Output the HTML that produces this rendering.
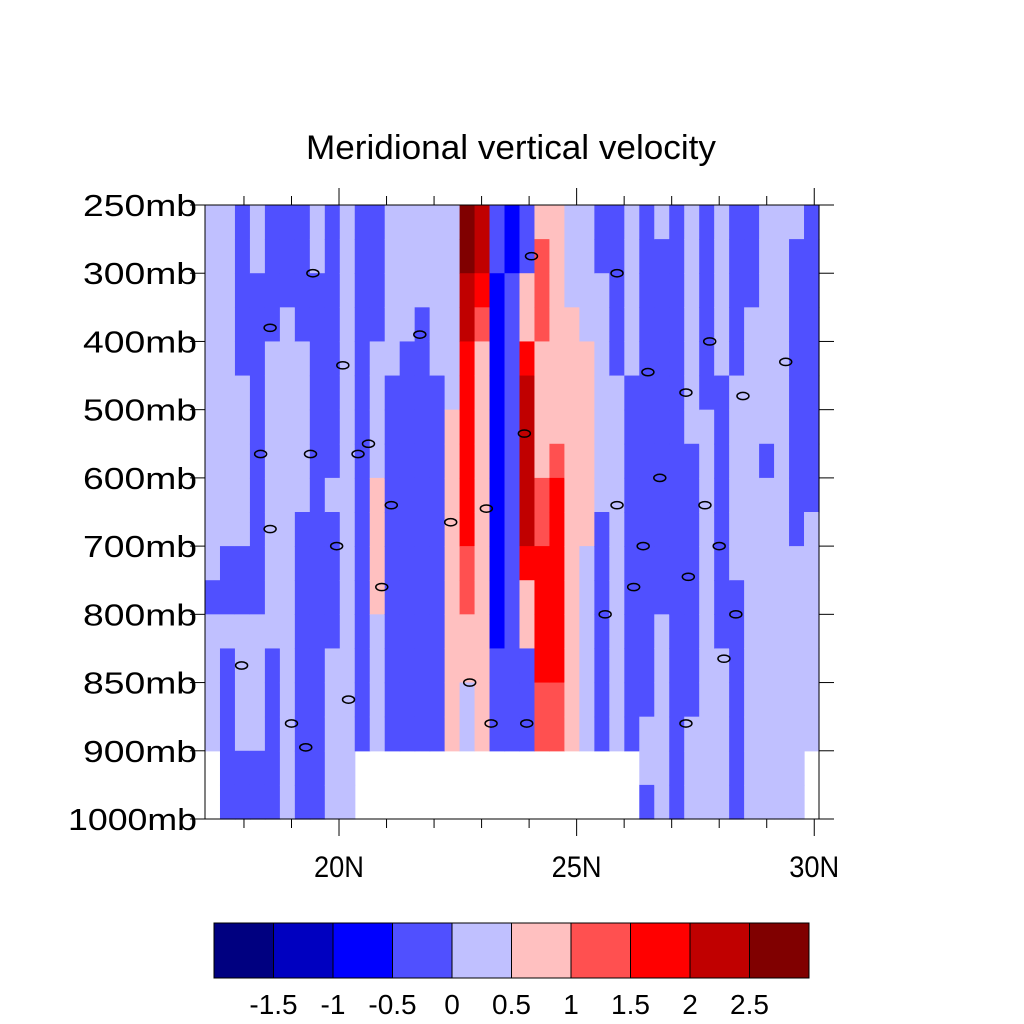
<!DOCTYPE html>
<html><head><meta charset="utf-8"><style>
html,body{margin:0;padding:0;background:#fff;}
svg{display:block;font-family:"Liberation Sans",Arial,sans-serif;}
</style></head><body>
<svg id="chart" width="1024" height="1024" viewBox="0 0 1024 1024">
<rect x="0" y="0" width="1024" height="1024" fill="#fff"/>
<text x="511" y="159" text-anchor="middle" font-size="34" textLength="410" lengthAdjust="spacingAndGlyphs">Meridional vertical velocity</text>
<g id="cells"></g>
<g id="labels"></g>
<g id="axes"></g>
<g id="cbar"></g>
</svg>
<script>
const levelLabels = ["250mb","300mb","400mb","500mb","600mb","700mb","800mb","850mb","900mb","1000mb"];
const latTicks = [20,25,30];
const latTickLabels = ["20N","25N","30N"];
const latMinor = [18,19,21,22,23,24,26,27,28,29];
const cbarLevels = [-1.5,-1,-0.5,0,0.5,1,1.5,2,2.5];
const cbarLabels = ["-1.5","-1","-0.5","0","0.5","1","1.5","2","2.5"];
const palette = ["#000080","#0000c0","#0000ff","#5050ff","#c0c0ff","#ffc0c0","#ff5050","#ff0000","#c00000","#800000"];
const n = null;
// velocity per column (west->east), 18 half-level rows top->bottom
const vcol = [
[.2,.2,.2,.2,.2,.2,.2,.2,.2,.2,.2,-.2,.2,.2,.2,.2,n,n],
[.2,.2,.2,.2,.2,.2,.2,.2,.2,.2,-.2,-.2,.2,-.2,-.2,-.2,-.2,-.2],
[-.2,-.2,-.2,-.2,-.2,.2,.2,.2,.2,.2,-.2,-.2,.2,.2,.2,.2,-.2,-.2],
[.2,.2,-.2,-.2,-.2,-.2,-.2,-.2,-.2,-.2,-.2,-.2,.2,.2,.2,.2,-.2,-.2],
[-.2,-.2,-.2,-.2,.2,.2,.2,.2,.2,.2,.2,.2,.2,-.2,-.2,-.2,-.2,-.2],
[-.2,-.2,-.2,.2,.2,.2,.2,.2,.2,.2,.2,.2,.2,.2,.2,.2,.2,.2],
[-.2,-.2,-.2,-.2,.2,.2,.2,.2,.2,-.2,-.2,-.2,-.2,-.2,-.2,-.2,-.2,-.2],
[.2,.2,-.2,-.2,-.2,-.2,-.2,-.2,-.2,-.2,-.2,-.2,-.2,-.2,-.2,-.2,-.2,-.2],
[-.2,-.2,-.2,-.2,-.2,-.2,-.2,-.2,.2,-.2,-.2,-.2,-.2,.2,.2,.2,.2,.2],
[.2,.2,.2,.2,.2,.2,.2,.2,.2,.2,.2,.2,.2,.2,.2,.2,.2,.2],
[-.2,-.2,-.2,-.2,-.2,-.2,-.2,-.2,-.2,-.2,-.2,-.2,-.2,-.2,-.2,-.2,n,n],
[-.2,-.2,-.2,-.2,.2,.2,.2,.2,.7,.7,.7,.7,.2,.2,.2,.2,n,n],
[.2,.2,.2,.2,.2,-.2,-.2,-.2,-.2,-.2,-.2,-.2,-.2,-.2,-.2,-.2,n,n],
[.2,.2,.2,.2,-.2,-.2,-.2,-.2,-.2,-.2,-.2,-.2,-.2,-.2,-.2,-.2,n,n],
[.2,.2,.2,-.2,-.2,-.2,-.2,-.2,-.2,-.2,-.2,-.2,-.2,-.2,-.2,-.2,n,n],
[.2,.2,.2,.2,.2,-.2,-.2,-.2,-.2,-.2,-.2,-.2,-.2,-.2,-.2,-.2,n,n],
[.2,.2,.2,.2,.2,.2,.7,.7,.7,.7,.7,.7,.7,.7,.7,.7,n,n],
[2.7,2.7,2.2,2.2,1.7,1.7,1.7,1.7,1.7,1.7,1.2,1.2,.7,.7,.2,.2,n,n],
[2.2,2.2,1.7,1.2,.7,.7,.7,.7,.7,.7,.7,.7,.7,.7,.7,.7,n,n],
[-.2,-.2,-.7,-.7,-.7,-.7,-.7,-.7,-.7,-.7,-.7,-.7,-.7,-.2,-.2,-.2,n,n],
[-.7,-.7,-.2,-.2,-.2,-.2,-.2,-.2,-.2,-.2,-.2,-.2,-.2,-.2,-.2,-.2,n,n],
[-.2,-.2,.7,.7,1.7,2.2,2.2,2.2,2.2,2.2,1.7,.7,.7,-.2,-.2,-.2,n,n],
[.7,1.2,1.2,1.2,.7,.7,.7,.7,1.2,1.2,1.7,1.7,1.7,1.7,1.2,1.2,n,n],
[.7,.7,.7,.7,.7,.7,.7,1.2,1.7,1.7,1.7,1.7,1.7,1.7,1.2,1.2,n,n],
[.2,.2,.2,.7,.7,.7,.7,.7,.7,.7,.7,.7,.7,.7,.7,.7,n,n],
[.2,.2,.2,.2,.7,.7,.7,.7,.7,.7,.2,.2,.2,.2,.2,.2,n,n],
[-.2,-.2,.2,.2,.2,.2,.2,.2,.2,-.2,-.2,-.2,-.2,-.2,-.2,-.2,n,n],
[-.2,-.2,-.2,-.2,-.2,.2,.2,.2,.2,.2,.2,.2,.2,.2,.2,.2,n,n],
[.2,.2,.2,.2,.2,-.2,-.2,-.2,-.2,-.2,-.2,-.2,-.2,-.2,-.2,-.2,n,n],
[-.2,-.2,-.2,-.2,-.2,-.2,-.2,-.2,-.2,-.2,-.2,-.2,-.2,-.2,-.2,.2,.2,-.2],
[.2,-.2,-.2,-.2,-.2,-.2,-.2,-.2,-.2,-.2,-.2,-.2,.2,.2,.2,.2,.2,.2],
[-.2,-.2,-.2,-.2,-.2,-.2,-.2,-.2,-.2,-.2,-.2,-.2,-.2,-.2,-.2,-.2,-.2,-.2],
[.2,.2,.2,.2,.2,.2,.2,-.2,-.2,-.2,-.2,-.2,-.2,-.2,-.2,.2,.2,.2],
[-.2,-.2,-.2,-.2,-.2,-.2,.2,.2,.2,.2,.2,.2,.2,.2,.2,.2,.2,.2],
[.2,.2,.2,.2,.2,-.2,-.2,-.2,-.2,-.2,-.2,-.2,-.2,.2,.2,.2,.2,.2],
[-.2,-.2,-.2,-.2,-.2,.2,.2,.2,.2,.2,.2,-.2,-.2,-.2,-.2,-.2,-.2,-.2],
[-.2,-.2,-.2,.2,.2,.2,.2,.2,.2,.2,.2,.2,.2,.2,.2,.2,.2,.2],
[.2,.2,.2,.2,.2,.2,.2,-.2,.2,.2,.2,.2,.2,.2,.2,.2,.2,.2],
[.2,.2,.2,.2,.2,.2,.2,.2,.2,.2,.2,.2,.2,.2,.2,.2,.2,.2],
[.2,-.2,-.2,-.2,-.2,-.2,-.2,-.2,-.2,-.2,.2,.2,.2,.2,.2,.2,.2,.2],
[-.2,-.2,-.2,-.2,-.2,-.2,-.2,-.2,-.2,.2,.2,.2,.2,.2,.2,.2,n,n]
];
// contour "0" label positions as (lat, level-index)
const zeroLabLat = [19.45,18.55,20.08,21.7,20.62,18.35,19.4,20.4,21.1,22.35,23.1,23.9,24.05,25.85,27.8,26.5,27.3,28.5,29.4,26.75,25.85,27.7,28.0,26.4,19.95,18.55,20.9,25.6,26.2,27.35,28.35,28.1,17.95,22.75,20.2,19.0,19.3,23.2,23.95,27.3];
const zeroLabLev = [1,1.8,2.35,1.9,3.5,3.65,3.65,3.65,4.4,4.65,4.45,3.35,0.75,1,2,2.45,2.75,2.8,2.3,4,4.4,4.4,5,5,5,4.75,5.6,6,5.6,5.45,6,6.65,6.75,7,7.25,7.6,7.95,7.6,7.6,7.6];

const NS="http://www.w3.org/2000/svg";
const X0=205,X1=819,Y0=205,Y1=819;
const LAT0=17.18, LAT1=30.1;
function xScale(lat){return X0+(lat-LAT0)/(LAT1-LAT0)*(X1-X0);}
function yLev(i){return Y0+i*(Y1-Y0)/(levelLabels.length-1);}
function colorOf(v){let k=Math.floor((v+2)/0.5);if(k<0)k=0;if(k>9)k=9;return palette[k];}
function mk(tag,attrs,parent){const e=document.createElementNS(NS,tag);for(const k in attrs)e.setAttribute(k,attrs[k]);parent.appendChild(e);return e;}

const cells=document.getElementById('cells');
const ncol=vcol.length, nrow=vcol[0].length;
const cw=(X1-X0)/ncol, rh=(Y1-Y0)/nrow;
for(let i=0;i<ncol;i++){
  for(let j=0;j<nrow;j++){
    const v=vcol[i][j];
    if(v===null) continue;
    const r=mk('rect',{x:(X0+i*cw).toFixed(2),y:(Y0+j*rh).toFixed(2),width:(cw+0.6).toFixed(2),height:(rh+0.6).toFixed(2),fill:colorOf(v)},cells);
    
    
  }
}
const labs=document.getElementById('labels');
for(let k=0;k<zeroLabLat.length;k++){
  const e=mk('ellipse',{cx:xScale(zeroLabLat[k]),cy:yLev(zeroLabLev[k]),rx:6,ry:3.6,fill:'none',stroke:'#000','stroke-width':1.5},labs);
  
  
}
const ax=document.getElementById('axes');
const frame=mk('rect',{x:X0,y:Y0,width:X1-X0,height:Y1-Y0,fill:'none',stroke:'#000','stroke-width':1},ax);


levelLabels.forEach((lab,i)=>{
  const y=yLev(i);
  mk('line',{x1:X0-15,y1:y,x2:X0,y2:y,stroke:'#000','stroke-width':1},ax);
  mk('line',{x1:X1,y1:y,x2:X1+15,y2:y,stroke:'#000','stroke-width':1},ax);
  const w = lab.length===6 ? 129 : 114;
  const t=mk('text',{x:197,y:y+11,'text-anchor':'end','font-size':31,textLength:w,lengthAdjust:'spacingAndGlyphs'},ax);
  t.textContent=lab;
  
  
});
latTicks.forEach((lat,i)=>{
  const x=xScale(lat);
  mk('line',{x1:x,y1:Y0,x2:x,y2:Y0-17,stroke:'#000','stroke-width':1},ax);
  mk('line',{x1:x,y1:Y1,x2:x,y2:Y1+17,stroke:'#000','stroke-width':1},ax);
  const t=mk('text',{x:x,y:877,'text-anchor':'middle','font-size':30,textLength:50,lengthAdjust:'spacingAndGlyphs'},ax);
  t.textContent=latTickLabels[i];
  
  
});
latMinor.forEach(lat=>{
  const x=xScale(lat);
  mk('line',{x1:x,y1:Y0,x2:x,y2:Y0-9,stroke:'#000','stroke-width':1},ax);
  mk('line',{x1:x,y1:Y1,x2:x,y2:Y1+9,stroke:'#000','stroke-width':1},ax);
});
const cb=document.getElementById('cbar');
const CB0=214,CB1=809,CBY=923,CBH=55;
const bw=(CB1-CB0)/palette.length;
palette.forEach((c,i)=>{
  const r=mk('rect',{x:CB0+i*bw,y:CBY,width:bw,height:CBH,fill:c,stroke:'#000','stroke-width':1},cb);
  
  
});
cbarLevels.forEach((v,i)=>{
  const t=mk('text',{x:CB0+(i+1)*bw,y:1014,'text-anchor':'middle','font-size':28},cb);
  t.textContent=cbarLabels[i];
  
  
});
</script>
</body></html>
